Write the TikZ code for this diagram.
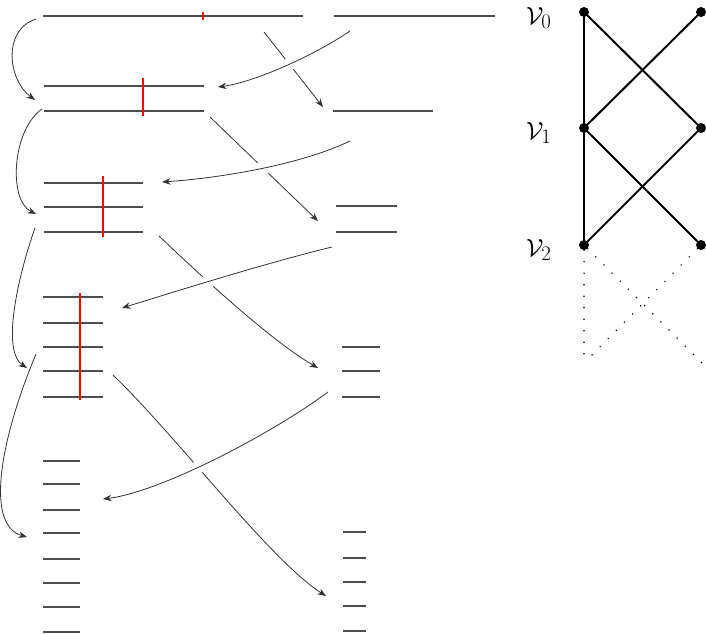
\documentclass[tikz,border=0pt]{standalone}
\usetikzlibrary{arrows.meta}
\begin{document}
\begin{tikzpicture}[x=1pt,y=-1pt,
  lvl/.style={draw=black!70, line width=1.3pt},
  redbar/.style={draw=red, line width=1.4pt},
  conn/.style={draw=black!80, line width=0.8pt, -{Stealth[length=8.5pt,width=6.5pt]}},
  gapconn/.style={conn, preaction={draw=white, line width=12pt, -}},
  gedge/.style={draw=black, line width=2pt},
  gdots/.style={draw=black, line width=1.6pt, line cap=round, dash pattern=on 0pt off 11.5pt},
  vtx/.style={circle, fill=black, inner sep=0pt, minimum size=10pt},
  lab/.style={font=\fontsize{29}{34}\selectfont, anchor=base west, inner sep=0pt}]
\useasboundingbox (0,0) rectangle (706,633);

% level 0
\draw[lvl] (43,16) -- (303,16);
\draw[lvl] (334,16) -- (495,16);
\draw[redbar] (203,12) -- (203,20);
% level 1
\foreach \y in {86,111} \draw[lvl] (44,\y) -- (204,\y);
\draw[redbar] (143,78) -- (143,116);
\draw[lvl] (333,111) -- (433,111);
% level 2
\foreach \y in {183,207,232} \draw[lvl] (44,\y) -- (143,\y);
\draw[redbar] (103,176) -- (103,237);
\foreach \y in {206,232} \draw[lvl] (336,\y) -- (397,\y);
% level 3
\foreach \y in {297,323,347,371,397} \draw[lvl] (43,\y) -- (103,\y);
\draw[redbar] (80,293) -- (80,400);
\foreach \y in {347,371,397} \draw[lvl] (342,\y) -- (380,\y);
% level 4
\foreach \y in {461,484,510,533,559,583,607,632} \draw[lvl] (43,\y) -- (80,\y);
\foreach \y in {532,558,582,606,631} \draw[lvl] (343,\y) -- (366,\y);

% connector end points
\coordinate (a1s) at (36,19);   \coordinate (a1e) at (35,100);
\coordinate (l1s) at (264,32);  \coordinate (l1e) at (323,107);
\coordinate (a2s) at (350,31);  \coordinate (a2e) at (218,87);
\coordinate (a3s) at (42,109);  \coordinate (a3e) at (36,214);
\coordinate (l2s) at (210,117); \coordinate (l2e) at (318,221);
\coordinate (a4s) at (350,141); \coordinate (a4e) at (162,182);
\coordinate (a5s) at (35,228);  \coordinate (a5e) at (27,368);
\coordinate (l3s) at (159,236); \coordinate (l3e) at (318,368);
\coordinate (a6s) at (332,247); \coordinate (a6e) at (122,308);
\coordinate (a7s) at (36,354);  \coordinate (a7e) at (27,537);
\coordinate (l4s) at (113,375); \coordinate (l4e) at (326,596);
\coordinate (a8s) at (328,392); \coordinate (a8e) at (103,499);

% left loops
\draw[conn] (a1s) .. controls (2,30) and (8,80) .. (a1e);
\draw[conn] (a3s) .. controls (12,130) and (8,200) .. (a3e);
\draw[conn] (a5s) .. controls (20,270) and (0,350) .. (a5e);
\draw[conn] (a7s) .. controls (0,440) and (-15,525) .. (a7e);
% diagonals to the right
\draw[conn] (l1s) -- (l1e);
\draw[conn] (l2s) -- (l2e);
\draw[conn] (l3s) .. controls (200,275) and (270,340) .. (l3e);
\draw[conn] (l4s) .. controls (180,440) and (270,560) .. (l4e);
% curves back to the left, crossing over
\draw[gapconn] (a2s) .. controls (315,55) and (255,82) .. (a2e);
\draw[gapconn] (a4s) .. controls (300,165) and (220,178) .. (a4e);
\draw[gapconn] (a6s) .. controls (270,262) and (180,290) .. (a6e);
\draw[gapconn] (a8s) .. controls (270,435) and (160,492) .. (a8e);

% graph
\node[vtx] (g00) at (584,12) {};
\node[vtx] (g01) at (701,12) {};
\node[vtx] (g10) at (584,128) {};
\node[vtx] (g11) at (701,128) {};
\node[vtx] (g20) at (584,245) {};
\node[vtx] (g21) at (701,245) {};
\coordinate (d0) at (584,363);
\coordinate (d1) at (702,363);
\draw[gedge] (g00.center) -- (g20.center);
\draw[gedge] (g00.center) -- (g11.center);
\draw[gedge] (g01.center) -- (g10.center);
\draw[gedge] (g10.center) -- (g21.center);
\draw[gedge] (g11.center) -- (g20.center);
\draw[gdots] (g20) -- (d0);
\draw[gdots] (g20) -- (d1);
\draw[gdots] (g21) -- (d0);

\node[lab] (v0) at (526,24) {$\mathcal{V}_0$};
\node[lab] (v1) at (526,139) {$\mathcal{V}_1$};
\node[lab] (v2) at (526,256) {$\mathcal{V}_2$};
\end{tikzpicture}
\end{document}
